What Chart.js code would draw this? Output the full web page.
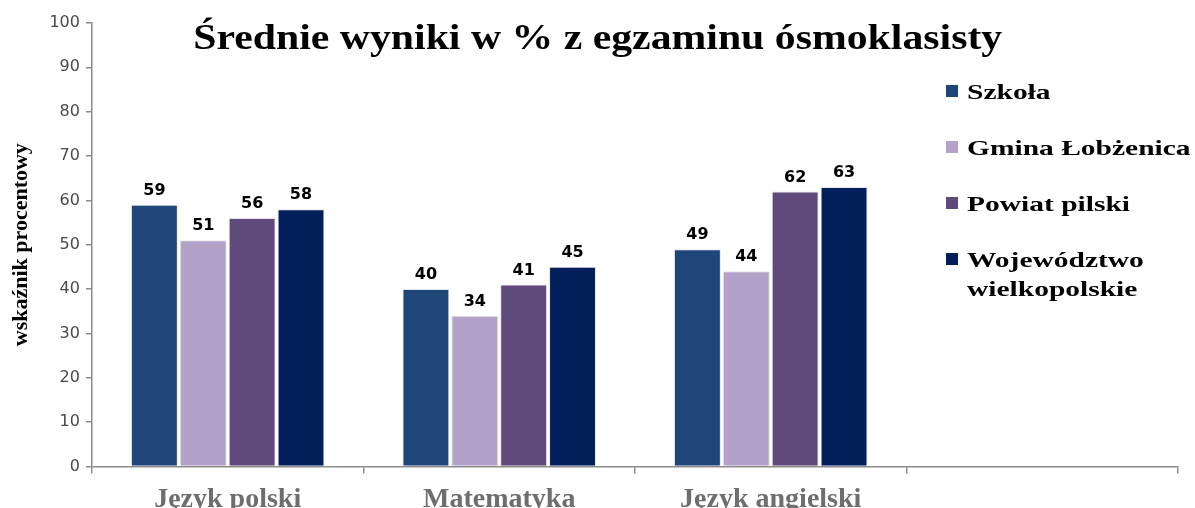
<!DOCTYPE html>
<html lang="pl">
<head>
<meta charset="utf-8">
<title>Średnie wyniki w % z egzaminu ósmoklasisty</title>
<script src="https://cdn.jsdelivr.net/npm/chart.js@4.4.1/dist/chart.umd.min.js"></script>
<style>
    html, body { margin: 0; padding: 0; background: #fff; overflow: hidden; }
    #wrap { position: relative; width: 1195px; height: 527px; }
    #title {
        position: absolute; left: 0; top: 16px; width: 1195px; text-align: center;
        font: bold 36px "Liberation Serif", "Times New Roman", serif; color: #000;
    }
    #title span { display: inline-block; transform: scaleX(1.16); }
    #legend { position: absolute; left: 946px; top: 77px; }
    .item { position: relative; height: 56px; font: bold 22px "Liberation Serif", serif; color: #000; }
    .box { position: absolute; left: 0; top: 8px; width: 12px; height: 12px; }
    .txt { position: absolute; left: 21px; top: 0; white-space: nowrap; line-height: 29px;
           transform: scaleX(1.34); transform-origin: left top; }
</style>
</head>
<body>
<div id="wrap">
    <canvas id="chart" width="1195" height="527"></canvas>
    <div id="title"><span>Średnie wyniki w % z egzaminu ósmoklasisty</span></div>
    <div id="legend"></div>
</div>
<script>
    // Dane wykresu
    const categories = ["Język polski", "Matematyka", "Język angielski", ""];
    const seriesNames = ["Szkoła", "Gmina Łobżenica", "Powiat pilski", "Województwo\nwielkopolskie"];
    const szkola = [59, 40, 49, null];
    const gmina = [51, 34, 44, null];
    const powiat = [56, 41, 62, null];
    const wojewodztwo = [58, 45, 63, null];
    const colors = ["#1f4678", "#b3a2c7", "#5f4a7b", "#021f5c"];
    const yTicks = [0, 10, 20, 30, 40, 50, 60, 70, 80, 90, 100];

    const allSeries = [szkola, gmina, powiat, wojewodztwo];

    // Legenda po prawej stronie
    const legend = document.getElementById("legend");
    seriesNames.forEach((name, i) => {
        const item = document.createElement("div");
        item.className = "item";
        item.innerHTML = `<div class="box" style="background:${colors[i]}"></div>
                          <div class="txt">${name.replace("\n", "<br>")}</div>`;
        legend.appendChild(item);
    });

    // Etykiety wartości nad słupkami
    const valueLabels = {
        id: "valueLabels",
        afterDatasetsDraw(chart) {
            const ctx = chart.ctx;
            ctx.save();
            ctx.font = "bold 16px 'DejaVu Sans', sans-serif";
            ctx.fillStyle = "#000";
            ctx.textAlign = "center";
            ctx.textBaseline = "bottom";
            chart.data.datasets.forEach((ds, i) => {
                chart.getDatasetMeta(i).data.forEach((bar, j) => {
                    if (ds.data[j] == null) return;
                    ctx.fillText(ds.data[j], bar.x, bar.y - 6);
                });
            });
            ctx.restore();
        }
    };

    new Chart(document.getElementById("chart"), {
        type: "bar",
        data: {
            labels: categories,
            datasets: allSeries.map((values, i) => ({
                label: seriesNames[i],
                data: values,
                backgroundColor: colors[i],
                borderColor: "#e4e4e4",
                borderWidth: 1,
                barPercentage: 0.96,
                categoryPercentage: 0.72
            }))
        },
        options: {
            responsive: false,
            animation: false,
            layout: { padding: { left: 8, right: 17, top: 23, bottom: 0 } },
            plugins: {
                legend: { display: false },
                title: { display: false },
                tooltip: { enabled: false }
            },
            scales: {
                x: {
                    border: { color: "#8c8c8c", width: 1.5 },
                    grid: { offset: true, drawOnChartArea: false, drawTicks: true, tickLength: 7, color: "#8c8c8c", lineWidth: 1.5 },
                    ticks: {
                        color: "#6e6e6e",
                        padding: 10,
                        font: { family: "'Liberation Serif', serif", size: 28, weight: "bold" }
                    }
                },
                y: {
                    min: 0,
                    max: 100,
                    afterBuildTicks: axis => { axis.ticks = yTicks.map(v => ({ value: v })); },
                    border: { color: "#8c8c8c", width: 1.5 },
                    grid: { drawOnChartArea: false, drawTicks: true, tickLength: 6, color: "#8c8c8c", lineWidth: 1.5 },
                    ticks: {
                        color: "#4a4a4a",
                        padding: 6,
                        font: { family: "'DejaVu Sans', sans-serif", size: 16 }
                    },
                    title: {
                        display: true,
                        text: "wskaźnik procentowy",
                        color: "#000",
                        padding: { top: 0, bottom: 9 },
                        font: { family: "'Liberation Serif', serif", size: 22, weight: "bold" }
                    }
                }
            }
        },
        plugins: [valueLabels]
    });
</script>
</body>
</html>
